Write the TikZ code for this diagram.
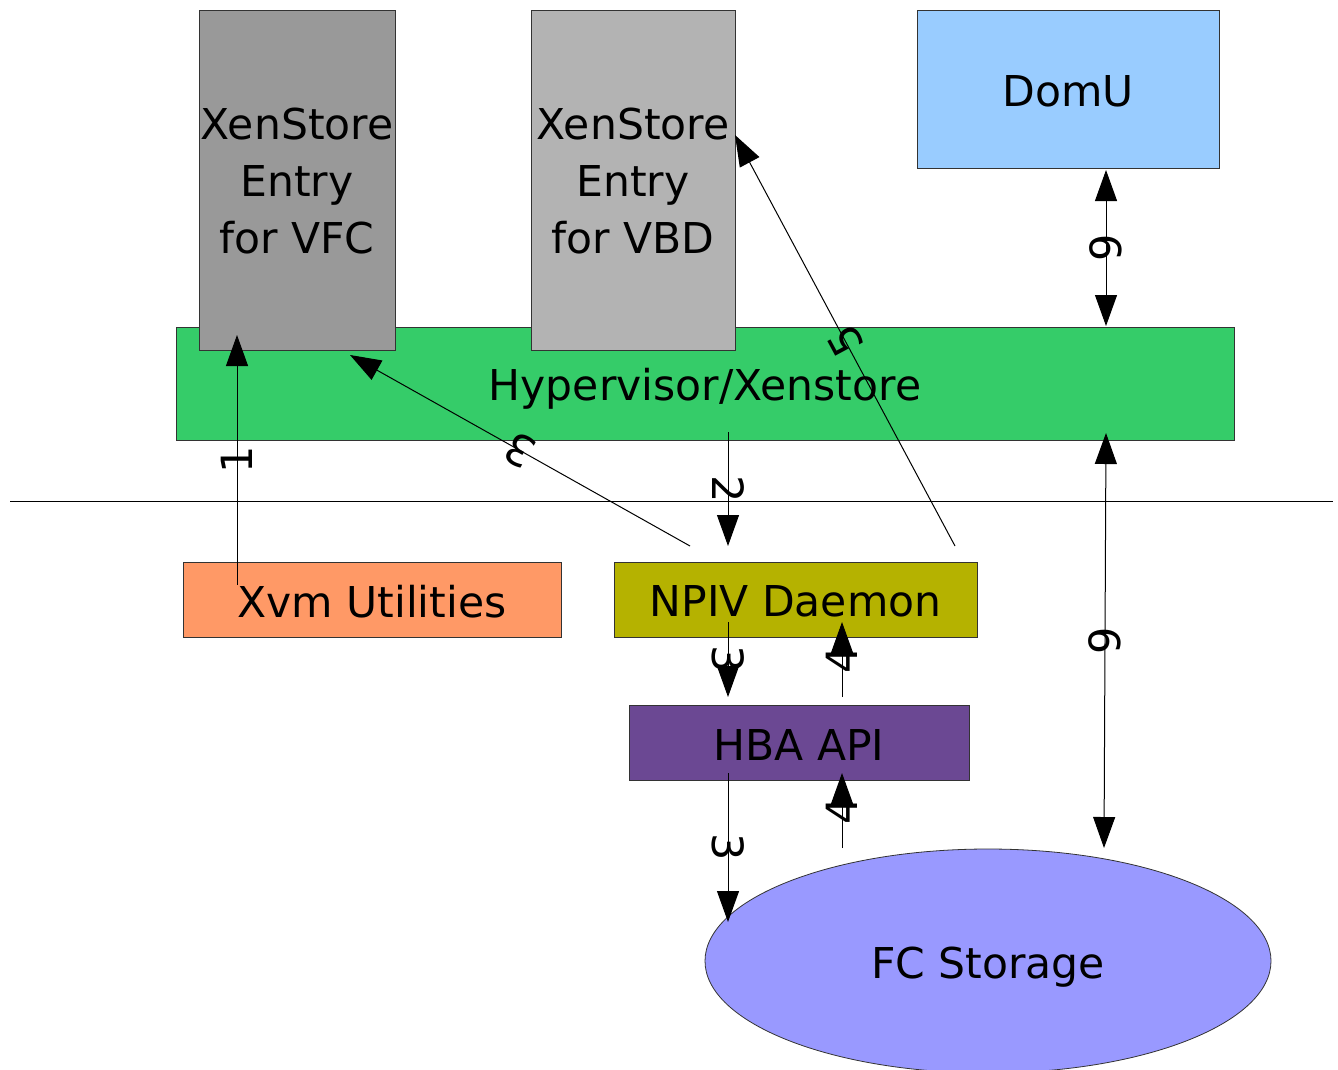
\documentclass[tikz,border=0pt]{standalone}
\usepackage{fontspec}
\setmainfont{DejaVu Sans}
\usetikzlibrary{arrows.meta,shapes.geometric}
\definecolor{cvfc}{HTML}{999999}
\definecolor{cvbd}{HTML}{B3B3B3}
\definecolor{cdomu}{HTML}{99CCFF}
\definecolor{chyp}{HTML}{35CC69}
\definecolor{cxvm}{HTML}{FF9966}
\definecolor{cnpiv}{HTML}{B5B200}
\definecolor{chba}{HTML}{6B4893}
\definecolor{cfc}{HTML}{9999FF}
\newcommand{\dn}[2]{\raisebox{-#1pt}[\height][\depth]{#2}}
\begin{document}
\begin{tikzpicture}[x=1pt,y=-1pt,
  box/.style={draw=black!80, line width=0.8pt, inner sep=0pt, align=center,
    font=\fontsize{42.5}{57}\selectfont},
  conn/.style={line width=1pt, -{Triangle[length=31pt,width=22pt]}},
  both/.style={line width=1pt, {Triangle[length=31pt,width=22pt]}-{Triangle[length=31pt,width=22pt]}},
  lbl/.style={font=\fontsize{43}{43}\selectfont, inner sep=0pt}]
\useasboundingbox (0,0) rectangle (1338,1069);

% boxes
\node[box, fill=chyp, minimum width=1058pt, minimum height=113pt] (hyp) at (705,383.5) {\dn{5}{Hypervisor/Xenstore}};
\node[box, fill=cvfc, minimum width=196pt, minimum height=340pt] (vfc) at (297,180)
  {\dn{1.5}{\parbox{0pt}{\centering\makebox[0pt]{XenStore}\\\makebox[0pt]{Entry}\\\makebox[0pt]{for VFC}}}};
\node[box, fill=cvbd, minimum width=204pt, minimum height=340pt] (vbd) at (633,180)
  {\dn{1.5}{\parbox{0pt}{\centering\makebox[0pt]{XenStore}\\\makebox[0pt]{Entry}\\\makebox[0pt]{for VBD}}}};
\node[box, fill=cdomu, minimum width=302pt, minimum height=158pt] (domu) at (1068,89) {\dn{2}{DomU}};
\node[box, fill=cxvm, minimum width=378pt, minimum height=75pt] (xvm) at (372,599.5) {\dn{2}{Xvm Utilities}};
\node[box, fill=cnpiv, minimum width=363pt, minimum height=75pt] (npiv) at (795.5,599.5) {\dn{2}{NPIV Daemon}};
\node[box, fill=chba, minimum width=340pt, minimum height=75pt] (hba) at (799,742.5) {\dn{2}{HBA API}};
\node[box, ellipse, fill=cfc, minimum width=566pt, minimum height=224pt] (fc) at (988,961) {\dn{6}{FC Storage}};

% separator
\coordinate (sepL) at (10,501);
\coordinate (sepR) at (1333,501);
\draw[line width=1pt] (sepL) -- (sepR);

% connector end points
\coordinate (a1s) at (237,585);  \coordinate (a1e) at (237,335);
\coordinate (a2s) at (728,432);  \coordinate (a2e) at (728,546);
\coordinate (a3s) at (690,546);  \coordinate (a3e) at (350,355);
\coordinate (a5s) at (955,546);  \coordinate (a5e) at (735,135);
\coordinate (b3s) at (728,622);  \coordinate (b3e) at (728,697);
\coordinate (b4s) at (842,697);  \coordinate (b4e) at (842,622);
\coordinate (c3s) at (728,773);  \coordinate (c3e) at (728,922);
\coordinate (c4s) at (842,848);  \coordinate (c4e) at (842,773);
\coordinate (d9s) at (1106,326); \coordinate (d9e) at (1106,170);
\coordinate (e9s) at (1104,848); \coordinate (e9e) at (1106,433);

% connectors
\draw[conn] (a1s) -- node[lbl, rotate=90] {1} (a1e);
\draw[conn] (a2s) -- node[lbl, rotate=-90] {2} (a2e);
\draw[conn] (a3s) -- node[lbl, rotate=150.8] {3} (a3e);
\draw[conn] (a5s) -- node[lbl, rotate=118.2] {5} (a5e);
\draw[conn] (b3s) -- node[lbl, rotate=-90] {3} (b3e);
\draw[conn] (b4s) -- node[lbl, rotate=90] {4} (b4e);
\draw[conn] (c3s) -- node[lbl, rotate=-90] {3} (c3e);
\draw[conn] (c4s) -- node[lbl, rotate=90] {4} (c4e);
\draw[both] (d9s) -- node[lbl, rotate=90] {9} (d9e);
\draw[both] (e9s) -- node[lbl, rotate=90] {9} (e9e);
\end{tikzpicture}
\end{document}
